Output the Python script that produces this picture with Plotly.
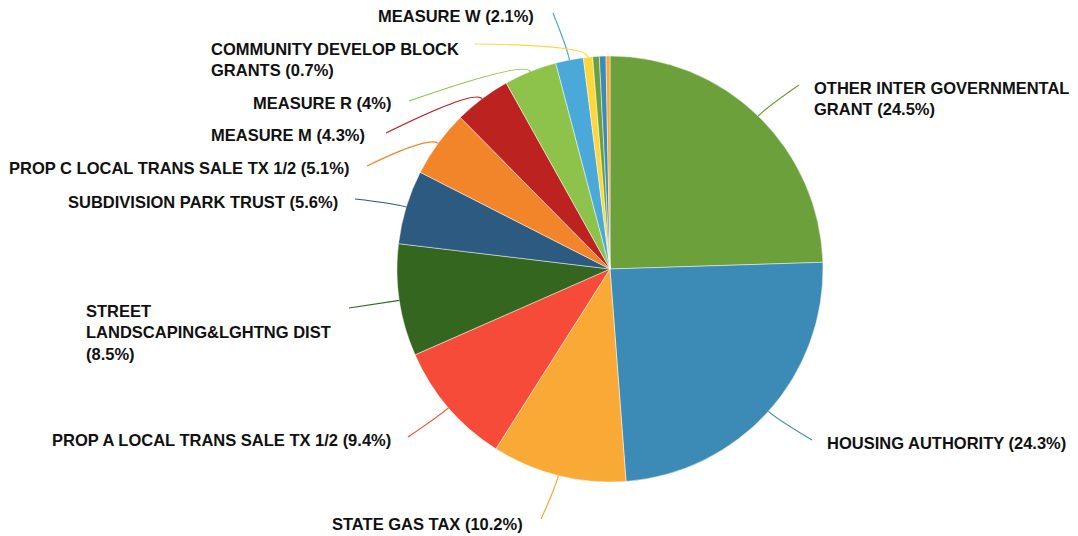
import math
import plotly.graph_objects as go

# ---- data ----
categories = [
    "OTHER INTER GOVERNMENTAL GRANT",
    "HOUSING AUTHORITY",
    "STATE GAS TAX",
    "PROP A LOCAL TRANS SALE TX 1/2",
    "STREET LANDSCAPING&LGHTNG DIST",
    "SUBDIVISION PARK TRUST",
    "PROP C LOCAL TRANS SALE TX 1/2",
    "MEASURE M",
    "MEASURE R",
    "MEASURE W",
    "COMMUNITY DEVELOP BLOCK GRANTS",
    "OTHER A",
    "OTHER B",
    "OTHER C",
]
values = [24.5, 24.3, 10.2, 9.4, 8.5, 5.6, 5.1, 4.3, 4.0, 2.1, 0.7, 0.5, 0.5, 0.3]
labelled = [True] * 11 + [False] * 3

# ---- style ----
palette = ["#6ba03a", "#3b8bb6", "#f8a936", "#f64b38", "#35661f", "#2c5a80",
           "#f2842a", "#bc2320", "#8dc24b", "#4ba9d9", "#fdd73d"]
colors = [palette[i % len(palette)] for i in range(len(values))]

W, H = 1078, 536
CX, CY, R = 610, 269, 213
FONT_SIZE = 16.5

# label layout (pixel positions): (line end x, line end y, text x, text y, xanchor, display text)
label_layout = [
    (799, 85, 812, 98, "left", "OTHER INTER GOVERNMENTAL<br>GRANT"),
    (812, 440, 825, 443, "left", None),
    (541, 519, 525, 524, "right", None),
    (408, 437, 393, 440, "right", None),
    (349, 308, 84, 332, "left", "STREET<br>LANDSCAPING&LGHTNG DIST<br>"),
    (355, 199, 340, 202, "right", None),
    (367, 166, 351, 168, "right", None),
    (386, 133, 367, 135, "right", None),
    (409, 101, 393, 103, "right", None),
    (553, 13, 536, 16, "right", None),
    (475, 44, 209, 60, "left", "COMMUNITY DEVELOP BLOCK<br>GRANTS"),
]


def px(x):
    return x / W


def py(y):
    return 1 - y / H


def fmt_pct(v, total):
    p = round(v / total * 100, 1)
    s = f"{p:.1f}"
    if s.endswith(".0"):
        s = s[:-2]
    return s + "%"


fig = go.Figure()
fig.add_trace(go.Pie(
    labels=categories,
    values=values,
    sort=False,
    direction="clockwise",
    rotation=0,
    textinfo="none",
    hoverinfo="label+percent",
    marker=dict(colors=colors, line=dict(color="rgba(255,255,255,0.8)", width=0.6)),
    domain=dict(x=[px(CX - R), px(CX + R)], y=[py(CY + R), py(CY - R)]),
    showlegend=False,
))

total = sum(values)
cum = 0.0
shapes = []
annotations = []
li = 0
for i, v in enumerate(values):
    mid = (cum + v / 2) / total
    cum += v
    if not labelled[i]:
        continue
    ex, ey, tx, ty, anchor, txt = label_layout[li]
    li += 1
    ang = mid * 2 * math.pi
    sx, sy = CX + R * math.sin(ang), CY - R * math.cos(ang)
    cx, cy = CX + (R + 12) * math.sin(ang), CY - (R + 12) * math.cos(ang)
    path = f"M {px(sx)},{py(sy)} Q {px(cx)},{py(cy)} {px(ex)},{py(ey)}"
    shapes.append(dict(type="path", xref="paper", yref="paper", path=path,
                       line=dict(color=colors[i], width=1.2)))
    pct = fmt_pct(v, total)
    if txt is None:
        text = f"{categories[i]} ({pct})"
    elif txt.endswith("<br>"):
        text = f"{txt}({pct})"
    else:
        text = f"{txt} ({pct})"
    annotations.append(dict(x=px(tx), y=py(ty), xref="paper", yref="paper",
                            text=text, showarrow=False, xanchor=anchor,
                            yanchor="middle", align="left",
                            font=dict(family="Liberation Sans, Arial, sans-serif",
                                      size=FONT_SIZE, color="#111111", weight="bold")))

fig.update_layout(
    width=W, height=H,
    margin=dict(l=0, r=0, t=0, b=0),
    paper_bgcolor="white",
    plot_bgcolor="white",
    shapes=shapes,
    annotations=annotations,
)

fig.write_html("out.html", config={"displayModeBar": False},
               post_script="document.body.style.margin='0';")
